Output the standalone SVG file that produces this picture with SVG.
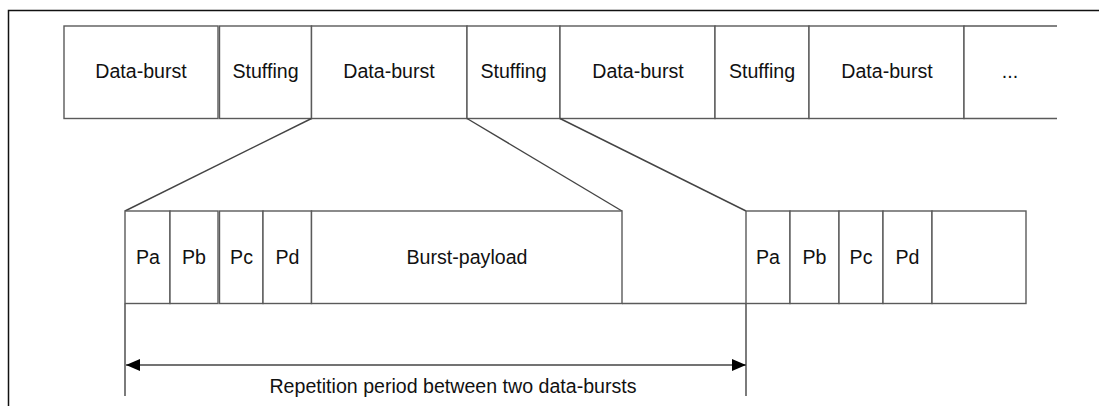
<svg xmlns="http://www.w3.org/2000/svg" width="1099" height="406" viewBox="0 0 1099 406">
<style>
.bx{fill:#fff;stroke:#5a5a5a;stroke-width:1.4}
.ln{fill:none;stroke:#444;stroke-width:1.4}
.t{font-family:"Liberation Sans",Arial,sans-serif;font-size:19.6px;fill:#111;text-anchor:middle}
</style>
<defs>
<marker id="ah" viewBox="0 0 14 12" refX="14" refY="6" markerWidth="14" markerHeight="12" markerUnits="userSpaceOnUse" orient="auto-start-reverse">
<path d="M0,0 L14,6 L0,12 Z" fill="#000"/>
</marker>
</defs>
<rect width="1099" height="406" fill="#fff"/>
<path d="M8.5,406 V10.5 H1099" fill="none" stroke="#111" stroke-width="1.5"/>

<g id="top-db1"><rect class="bx" x="64" y="26" width="154" height="92.5"/><text class="t" x="141" y="78">Data-burst</text></g>
<g id="top-st1"><rect class="bx" x="219.5" y="26" width="92" height="92.5"/><text class="t" x="265.5" y="78">Stuffing</text></g>
<g id="top-db2"><rect class="bx" x="311.5" y="26" width="155.5" height="92.5"/><text class="t" x="389" y="78">Data-burst</text></g>
<g id="top-st2"><rect class="bx" x="467" y="26" width="93" height="92.5"/><text class="t" x="513.5" y="78">Stuffing</text></g>
<g id="top-db3"><rect class="bx" x="560" y="26" width="155" height="92.5"/><text class="t" x="638" y="78">Data-burst</text></g>
<g id="top-st3"><rect class="bx" x="715" y="26" width="94" height="92.5"/><text class="t" x="762" y="78">Stuffing</text></g>
<g id="top-db4"><rect class="bx" x="809" y="26" width="155" height="92.5"/><text class="t" x="887" y="78">Data-burst</text></g>
<g id="top-more"><path class="bx" d="M1057,26 H964 V118.5 H1057"/><text class="t" x="1010" y="78">...</text></g>

<g id="connectors">
<line class="ln" x1="311.5" y1="118.5" x2="125" y2="211"/>
<line class="ln" x1="467" y1="118.5" x2="622" y2="211"/>
<line class="ln" x1="560" y1="118.5" x2="746" y2="211"/>
<path class="bx" d="M622,303.5 H746" fill="none"/>
<line class="ln" x1="125" y1="303.5" x2="125" y2="396"/>
<line class="ln" x1="746" y1="303.5" x2="746" y2="396"/>
<line x1="126" y1="365" x2="746" y2="365" stroke="#444" stroke-width="1.4" marker-start="url(#ah)" marker-end="url(#ah)"/>
</g>

<g id="b1-pa"><rect class="bx" x="125" y="211" width="45" height="92.5"/><text class="t" x="148" y="264">Pa</text></g>
<g id="b1-pb"><rect class="bx" x="170" y="211" width="48" height="92.5"/><text class="t" x="194" y="264">Pb</text></g>
<g id="b1-pc"><rect class="bx" x="219.5" y="211" width="43.5" height="92.5"/><text class="t" x="241.5" y="264">Pc</text></g>
<g id="b1-pd"><rect class="bx" x="263" y="211" width="48.5" height="92.5"/><text class="t" x="287.5" y="264">Pd</text></g>
<g id="b1-payload"><rect class="bx" x="311.5" y="211" width="310.5" height="92.5"/><text class="t" x="467" y="264">Burst-payload</text></g>

<g id="b2-pa"><rect class="bx" x="746" y="211" width="44" height="92.5"/><text class="t" x="768" y="264">Pa</text></g>
<g id="b2-pb"><rect class="bx" x="790" y="211" width="49" height="92.5"/><text class="t" x="814.5" y="264">Pb</text></g>
<g id="b2-pc"><rect class="bx" x="839" y="211" width="44" height="92.5"/><text class="t" x="861" y="264">Pc</text></g>
<g id="b2-pd"><rect class="bx" x="883" y="211" width="49" height="92.5"/><text class="t" x="907.5" y="264">Pd</text></g>
<g id="b2-payload"><rect class="bx" x="932" y="211" width="94" height="92.5"/></g>

<g id="period-label"><text class="t" x="453" y="393">Repetition period between two data-bursts</text></g>
</svg>
